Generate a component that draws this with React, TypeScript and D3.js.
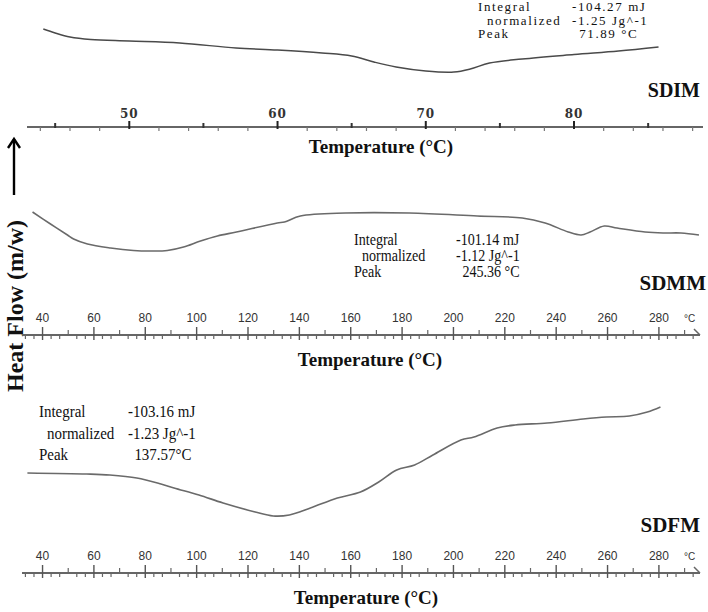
import React from 'react';
import * as d3 from 'd3';

// SDIM (top panel) : temperature (°C) and heat flow (arbitrary mW units)
const sdimTemp = [44.2, 45.0, 46.0, 47.4, 50.0, 53.4, 57.2, 60.0, 63.0, 65.0, 66.5, 68.0, 70.0, 71.9, 73.0, 74.3, 76.5, 80.0, 83.0, 85.7];
const sdimFlow = [-2.0, -2.4, -2.8, -3.05, -3.2, -3.4, -3.9, -4.1, -4.4, -4.7, -5.3, -5.8, -6.2, -6.3, -6.0, -5.4, -5.0, -4.55, -4.2, -3.8];

// SDMM (middle panel)
const sdmmTemp = [36.1, 43.1, 49.7, 52.1, 57.5, 66.5, 75.4, 82, 88.6, 94.9, 101.5, 108.1, 115.5, 131.4, 134.2, 140.4, 157.9, 182.8, 209.3, 226.8, 235.7, 244.7, 249.7, 253.2, 258.7, 263.7, 274.6, 281.6, 288.6, 295.6];
const sdmmFlow = [-1.2, -2.4, -3.5, -3.9, -4.4, -4.8, -5.05, -5.1, -5.05, -4.7, -4.1, -3.6, -3.2, -2.3, -2.2, -1.6, -1.3, -1.3, -1.6, -1.8, -2.3, -3.2, -3.5, -3.2, -2.6, -2.8, -3.2, -3.3, -3.3, -3.5];

// SDFM (bottom panel)
const sdfmTemp = [34.1, 57.2, 66.2, 76.7, 86.1, 91.2, 100.9, 110.3, 122.8, 129.8, 136.1, 144.3, 154.8, 163.8, 170.9, 177.9, 184.9, 192, 202.9, 208, 217, 224, 236.5, 250.5, 259.5, 268.5, 275.5, 280.6];
const sdfmFlow = [-3.3, -3.4, -3.5, -3.8, -4.4, -4.8, -5.5, -6.3, -7.2, -7.6, -7.5, -6.8, -5.8, -5.2, -4.2, -3.0, -2.5, -1.5, 0.0, 0.3, 1.2, 1.5, 1.7, 2.1, 2.3, 2.4, 2.8, 3.3];

const topMajor = [50, 60, 70, 80];
const wideMajor = [40, 60, 80, 100, 120, 140, 160, 180, 200, 220, 240, 260, 280];

const sdimInfo = [['Integral', '-104.27 mJ'], ['normalized', '-1.25 Jg^-1'], ['Peak', '71.89 °C']];
const sdmmInfo = [['Integral', '-101.14 mJ'], ['normalized', '-1.12 Jg^-1'], ['Peak', '245.36 °C']];
const sdfmInfo = [['Integral', '-103.16 mJ'], ['normalized', '-1.23 Jg^-1'], ['Peak', '137.57°C']];

const W = 708;
const H = 612;
const serif = '"Liberation Serif", "Times New Roman", serif';

const Curve = ({temps, flows, x, y, color = '#6a6a6a', width = 1.6}) => {
    const pts = temps.map((t, i) => [t, flows[i]]);
    const line = d3.line().x(d => x(d[0])).y(d => y(d[1])).curve(d3.curveCatmullRom.alpha(0.5));
    return <path d={line(pts)} fill="none" stroke={color} strokeWidth={width}/>;
};

// text block, squeezed horizontally by sx like the scanned original
const InfoBlock = ({rows, x0, x1, y0, dy, size, indent, sx = 1, spacing = 0}) => (
    <g fontFamily={serif} fontSize={size} fill="#111" letterSpacing={spacing}>
        {rows.map((r, i) => (
            <g key={r[0]}>
                <text transform={`translate(${x0 + (i === 1 ? indent : 0)},${y0 + i * dy}) scale(${sx},1)`}>{r[0]}</text>
                <text transform={`translate(${x1 + (i === 2 ? indent * 0.8 : 0)},${y0 + i * dy}) scale(${sx},1)`}>{r[1]}</text>
            </g>
        ))}
    </g>
);

const TopAxis = ({x, y}) => {
    const [d0, d1] = x.domain();
    const small = d3.range(44, d1, 2).filter(t => t % 10 !== 0);
    const mid = d3.range(45, d1, 10);
    return (
        <g>
            <line x1={x(d0)} x2={x(d1)} y1={y} y2={y} stroke="#666" strokeWidth={2}/>
            {small.map(t => <line key={'s' + t} x1={x(t)} x2={x(t)} y1={y} y2={y + 4} stroke="#777" strokeWidth={1.2}/>)}
            {mid.map(t => <line key={'m' + t} x1={x(t)} x2={x(t)} y1={y - 4} y2={y + 1} stroke="#333" strokeWidth={2}/>)}
            {topMajor.map(t => (
                <g key={t}>
                    <line x1={x(t)} x2={x(t)} y1={y - 6} y2={y + 2} stroke="#222" strokeWidth={2}/>
                    <text x={x(t)} y={y - 9} textAnchor="middle" fontFamily='"DejaVu Serif", serif'
                          fontWeight="bold" fontSize={12} fill="#333" letterSpacing={1}>{t}</text>
                </g>
            ))}
        </g>
    );
};

const WideAxis = ({x, y}) => {
    const [d0, d1] = x.domain();
    const minor = d3.range(0, 90).map(k => 30 + k * 10 / 3)
        .filter(t => t > d0 && t < d1 - 1 && Math.abs(t / 10 - Math.round(t / 10)) > 0.01);
    const mid = d3.range(50, d1, 20);
    const xe = x(d1);
    return (
        <g>
            <line x1={x(d0)} x2={xe} y1={y} y2={y} stroke="#666" strokeWidth={1.8}/>
            <path d={`M${xe - 6},${y - 6}L${xe},${y}`} stroke="#666" strokeWidth={1.5} fill="none"/>
            {minor.map(t => <line key={'n' + t} x1={x(t)} x2={x(t)} y1={y} y2={y + 4} stroke="#666" strokeWidth={1.2}/>)}
            {mid.map(t => <line key={'m' + t} x1={x(t)} x2={x(t)} y1={y - 5} y2={y} stroke="#666" strokeWidth={1.2}/>)}
            {wideMajor.map(t => (
                <g key={t}>
                    <line x1={x(t)} x2={x(t)} y1={y - 8} y2={y + 5} stroke="#555" strokeWidth={1.4}/>
                    <text x={x(t)} y={y - 13} textAnchor="middle" fontFamily='"Liberation Sans Narrow", "Liberation Sans", sans-serif'
                          fontSize={12} fill="#333">{t}</text>
                </g>
            ))}
            <text x={x(292)} y={y - 13} textAnchor="middle" fontFamily='"Liberation Sans", sans-serif' fontSize={10} fill="#333">°C</text>
        </g>
    );
};

const Title = ({x, y}) => (
    <text x={x} y={y} textAnchor="middle" fontFamily={serif} fontWeight="bold" fontSize={19} fill="#111">Temperature (°C)</text>
);

const Label = ({x, y, children, size = 21}) => (
    <text x={x} y={y} textAnchor="end" fontFamily={serif} fontWeight="bold" fontSize={size} fill="#111">{children}</text>
);

const App = () => {
    const xTop = d3.scaleLinear().domain([43.1, 88.7]).range([27, 703]);
    const yTop = d3.scaleLinear().domain([-8, 0]).range([89, 9]);

    const xMid = d3.scaleLinear().domain([32, 296]).range([22, 700]);
    const yMid = d3.scaleLinear().domain([-8, 0]).range([280, 200]);

    const xBot = d3.scaleLinear().domain([32, 296]).range([22, 700]);
    const yBot = d3.scaleLinear().domain([-8, 4]).range([520, 400]);

    return (
        <svg width={W} height={H} viewBox={`0 0 ${W} ${H}`}
             style={{position: 'absolute', left: 0, top: 0, background: '#fff'}}>
            <rect width={W} height={H} fill="#fff"/>

            {/* SDIM */}
            <Curve temps={sdimTemp} flows={sdimFlow} x={xTop} y={yTop} color="#4a4a4a" width={1.5}/>
            <InfoBlock rows={sdimInfo} x0={478} x1={572} y0={11} dy={13.5} size={13} indent={9} spacing={1.6}/>
            <Label x={700} y={97} size={20}>SDIM</Label>
            <TopAxis x={xTop} y={127}/>
            <Title x={381} y={153}/>

            {/* y label + arrow */}
            <g stroke="#000" strokeWidth={2.4} fill="none">
                <line x1={14} x2={14} y1={195} y2={139}/>
                <path d="M8,148L14,139L20,148"/>
            </g>
            <text transform="translate(23,306) rotate(-90)" textAnchor="middle" fontFamily={serif}
                  fontWeight="bold" fontSize={24} fill="#111">Heat Flow (m/w)</text>

            {/* SDMM */}
            <Curve temps={sdmmTemp} flows={sdmmFlow} x={xMid} y={yMid}/>
            <InfoBlock rows={sdmmInfo} x0={354} x1={456} y0={245} dy={16} size={16} indent={8} sx={0.88}/>
            <Label x={706} y={290}>SDMM</Label>
            <WideAxis x={xMid} y={335}/>
            <Title x={370} y={366}/>

            {/* SDFM */}
            <Curve temps={sdfmTemp} flows={sdfmFlow} x={xBot} y={yBot}/>
            <InfoBlock rows={sdfmInfo} x0={39} x1={128} y0={417} dy={21.5} size={17} indent={8} sx={0.88}/>
            <Label x={700} y={532}>SDFM</Label>
            <WideAxis x={xBot} y={573}/>
            <Title x={366} y={604}/>
        </svg>
    );
};

export default App;
